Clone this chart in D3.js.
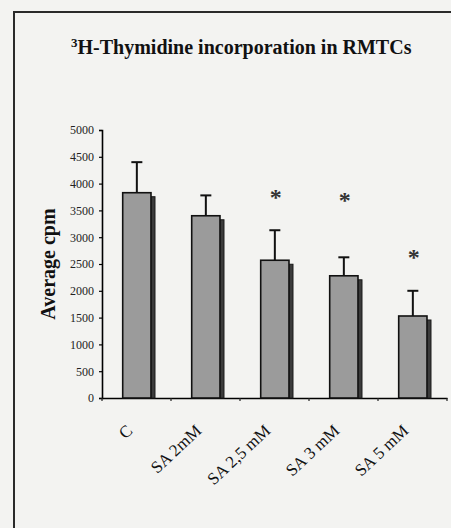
<!DOCTYPE html>
<html>
<head>
<meta charset="utf-8">
<script src="https://cdn.jsdelivr.net/npm/d3@7"></script>
<style>
  body { margin: 0; background: #f3f3f1; }
  svg { display: block; font-family: 'Liberation Serif', 'Times New Roman', serif; }
</style>
</head>
<body>
<div id="chart"></div>
<script>
const categories = ['C', 'SA 2mM', 'SA 2,5 mM', 'SA 3 mM', 'SA 5 mM'];
const means = [3830, 3400, 2570, 2280, 1530];
const errors = [570, 380, 560, 345, 470];
//asterisk height (in cpm) for the significant groups, null = none
const stars = [null, null, 3830, 3760, 2700];
const yTicks = [0, 500, 1000, 1500, 2000, 2500, 3000, 3500, 4000, 4500, 5000];

class BarChart {
  constructor(selector, w, h) {
    this.w = w;
    this.h = h;
    this.root = d3.select(selector).html('')
      .append('svg')
      .attr('width', this.w)
      .attr('height', this.h);
  }

  init() {
    this.data = categories.map((c, i) => ({
      name: c,
      mean: means[i],
      err: errors[i],
      star: stars[i]
    }));
    this.xScale = d3.scaleBand()
      .domain(categories)
      .range([102, 447]);
    this.yScale = d3.scaleLinear()
      .domain([0, 5000])
      .range([398, 130]);
    this.drawFrame();
    this.drawAxes();
    this.drawBars();
  }

  drawFrame() {
    this.root.append('rect')
      .attr('width', this.w)
      .attr('height', this.h)
      .style('fill', '#f3f3f1');
    //scanned page border, only left and top are visible
    this.root.append('path')
      .attr('d', `M14,${this.h} V12 H${this.w}`)
      .style('fill', 'none')
      .style('stroke', '#2a2a2a')
      .style('stroke-width', 2);

    let title = this.root.append('text')
      .attr('x', 71)
      .attr('y', 54)
      .style('font-size', '20px')
      .style('font-weight', 'bold')
      .style('fill', '#111');
    title.append('tspan')
      .attr('dy', -7)
      .style('font-size', '13px')
      .text('3');
    title.append('tspan')
      .attr('dy', 7)
      .text('H-Thymidine incorporation in RMTCs');
  }

  drawAxes() {
    let yAxis = this.root.append('g')
      .attr('class', 'y-axis')
      .attr('transform', 'translate(102,0)')
      .call(d3.axisLeft(this.yScale).tickValues(yTicks).tickSize(3).tickPadding(5).tickFormat(d3.format('d')));
    yAxis.attr('font-family', "'Liberation Serif', serif");
    yAxis.select('.domain').style('stroke-width', 1.6);
    yAxis.selectAll('.tick line').style('stroke-width', 1.2);
    yAxis.selectAll('text')
      .style('font-family', "'Liberation Serif', serif")
      .style('font-size', '12px')
      .style('fill', '#222');

    let xAxis = this.root.append('g')
      .attr('class', 'x-axis')
      .attr('transform', 'translate(0,398)')
      .call(d3.axisBottom(this.xScale).tickSize(0).tickFormat(''));
    xAxis.select('.domain').style('stroke-width', 1.6);
    //ticks sit between the categories
    xAxis.selectAll('.sep')
      .data(categories.map(c => this.xScale(c)).concat([447]))
      .enter()
      .append('line')
      .attr('class', 'sep')
      .attr('x1', d => d)
      .attr('x2', d => d)
      .attr('y1', 0)
      .attr('y2', 3)
      .style('stroke', '#222')
      .style('stroke-width', 1.2);

    this.root.append('g')
      .selectAll('.x-label')
      .data(this.data)
      .enter()
      .append('text')
      .attr('class', 'x-label')
      .attr('text-anchor', 'end')
      .attr('transform', d => `translate(${this.xScale(d.name) + this.xScale.bandwidth() / 2 - 3},432) rotate(-43)`)
      .style('font-size', '17px')
      .style('fill', '#111')
      .text(d => d.name);

    this.root.append('text')
      .attr('text-anchor', 'middle')
      .attr('transform', 'translate(55,264) rotate(-90)')
      .style('font-size', '20px')
      .style('font-weight', 'bold')
      .style('fill', '#111')
      .text('Average cpm');
  }

  drawBars() {
    let bw = this.xScale.bandwidth();
    let barW = bw * 0.41;
    let barX = d => this.xScale(d.name) + bw * 0.3;
    let y0 = this.yScale(0);

    let bars = this.root.append('g').attr('class', 'bars');
    //dark drop shadow to the right of every bar
    bars.selectAll('.shadow')
      .data(this.data)
      .enter()
      .append('rect')
      .attr('class', 'shadow')
      .attr('x', d => barX(d) + 4)
      .attr('y', d => this.yScale(d.mean) + 4)
      .attr('width', barW)
      .attr('height', d => y0 - this.yScale(d.mean) - 4)
      .style('fill', '#3b3b3b')
      .style('stroke', '#1a1a1a')
      .style('stroke-width', 1);
    bars.selectAll('.bar')
      .data(this.data)
      .enter()
      .append('rect')
      .attr('class', 'bar')
      .attr('x', barX)
      .attr('y', d => this.yScale(d.mean))
      .attr('width', barW)
      .attr('height', d => y0 - this.yScale(d.mean))
      .style('fill', '#9b9b9b')
      .style('stroke', '#111')
      .style('stroke-width', 1.6);

    let errs = this.root.append('g').attr('class', 'errors')
      .selectAll('g')
      .data(this.data)
      .enter()
      .append('g')
      .attr('transform', d => `translate(${barX(d) + barW / 2},0)`);
    errs.append('line')
      .attr('y1', d => this.yScale(d.mean))
      .attr('y2', d => this.yScale(d.mean + d.err))
      .style('stroke', '#111')
      .style('stroke-width', 2);
    errs.append('line')
      .attr('x1', -5.5)
      .attr('x2', 5.5)
      .attr('y1', d => this.yScale(d.mean + d.err))
      .attr('y2', d => this.yScale(d.mean + d.err))
      .style('stroke', '#111')
      .style('stroke-width', 2);

    this.root.append('g').attr('class', 'stars')
      .selectAll('text')
      .data(this.data.filter(d => d.star != null))
      .enter()
      .append('text')
      .attr('text-anchor', 'middle')
      .attr('x', d => barX(d) + barW / 2 + 1)
      .attr('y', d => this.yScale(d.star) + 12)
      .style('font-size', '24px')
      .style('font-weight', 'bold')
      .style('fill', '#333')
      .text('*');
  }
}

function init() {
  let chart = new BarChart('#chart', 451, 528);
  chart.init();
}

init();
</script>
</body>
</html>
